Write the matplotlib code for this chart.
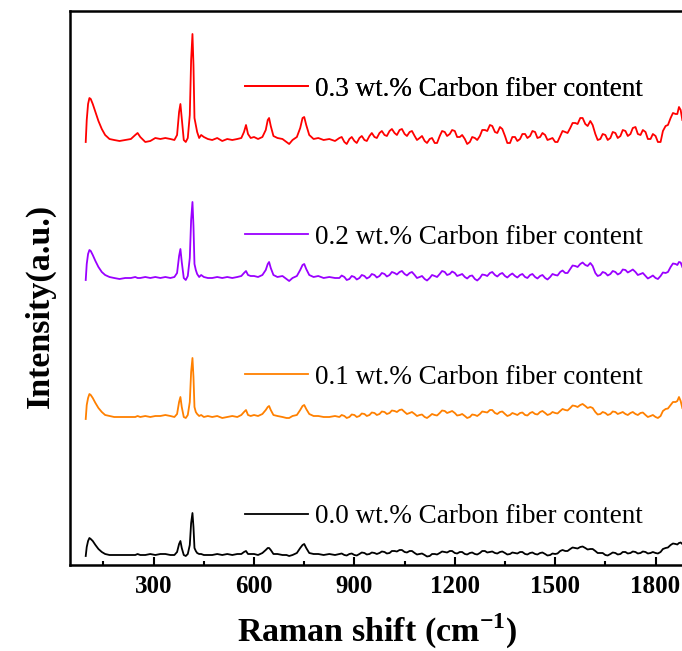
import matplotlib
matplotlib.use("Agg")
import numpy as np
import matplotlib.pyplot as plt
from matplotlib.lines import Line2D
from matplotlib.ticker import MultipleLocator

plt.rcParams["font.family"] = ["Liberation Serif", "DejaVu Serif"]
plt.rcParams["mathtext.fontset"] = "custom"
plt.rcParams["mathtext.rm"] = "Liberation Serif"
plt.rcParams["mathtext.bf"] = "Liberation Serif:bold"

# Raman shift (cm-1)
shift = [
    97, 100, 104, 108, 112, 118, 126, 135, 145, 155, 168, 182, 198, 215, 232,
    245, 252, 260, 275, 290, 305, 320, 335, 350, 362, 370, 376, 380, 384, 390,
    396, 402, 408, 412, 416, 419, 422, 426, 430, 436, 442, 450, 462, 475, 490,
    505, 520, 535, 550, 562, 570, 576, 582, 590, 600, 612, 625, 635, 641, 645,
    650, 658, 670, 685, 697, 705, 715, 728, 738, 745, 750, 756, 765, 778, 792,
    808, 825, 842,
    855, 870, 885, 900, 915, 930, 945, 960, 975, 990, 1005, 1020, 1035, 1050,
    1065, 1080, 1095, 1110, 1125, 1140, 1155, 1170, 1185, 1200, 1215, 1230,
    1245, 1260, 1275, 1290, 1305, 1320, 1335, 1350, 1365, 1380, 1395, 1410,
    1425, 1440, 1455, 1470, 1485, 1500, 1515, 1530, 1545, 1560, 1575, 1590,
    1605, 1620, 1635, 1650, 1665, 1680, 1695, 1710, 1725, 1740, 1755, 1770,
    1785, 1800, 1815, 1830, 1845, 1860, 1870, 1880,
]

# intensity above each trace's own baseline (a.u.)
int_00 = [
    -1, 8, 14, 17, 16, 14, 10, 6, 3, 1, 0, 0, 0, 0, 0,
    0, 1, 0, 0, 1, 0, 1, 1, 0, 0, 3, 11, 14, 7, 0,
    -1, 1, 10, 32, 42, 28, 7, 4, 2, 1, 1, 0, 0, 0, 1,
    0, 1, 0, 1, 1, 3, 4, 1, 1, 1, 0, 2, 5, 7, 7,
    5, 1, 1, 0, 0, -1, 0, 2, 7, 10, 11, 7, 2, 1, 1,
    0, 1, 0,
    1, 0, 1, 0, 1, 2, 1, 2, 2, 3, 2, 4, 5, 3,
    4, 2, 1, 0, -1, 1, 2, 3, 4, 2, 3, 1,
    2, 1, 2, 4, 3, 2, 3, 2, 1, 2, 3, 1,
    2, 1, 2, 1, 0, 1, 4, 4, 6, 7, 8, 7,
    6, 4, 2, 0, 1, 2, 1, 3, 2, 3, 2, 3,
    2, 2, 3, 7, 10, 11, 12, 11,
]
int_01 = [
    -2, 12, 19, 23, 22, 19, 14, 9, 5, 2, 1, 0, 0, 0, 0,
    0, 1, 0, 1, 0, 1, 1, 2, 1, 0, 3, 15, 20, 10, 0,
    -1, 2, 15, 45, 59, 40, 10, 5, 3, 1, 2, 0, 1, 0, 1,
    -1, 0, 1, 0, 2, 5, 7, 2, 1, 2, 1, 3, 7, 10, 11,
    7, 2, 1, 0, -1, -1, 1, 2, 7, 11, 12, 8, 3, 1, 1,
    0, 0, 1,
    0, 1, 0, 2, 1, 3, 2, 4, 3, 5, 4, 6, 7, 5,
    4, 3, 2, 0, 1, 2, 4, 6, 5, 4, 2, 1,
    0, 2, 3, 5, 7, 4, 5, 3, 2, 3, 4, 2,
    4, 3, 5, 4, 3, 4, 6, 7, 9, 11, 12, 11,
    10, 5, 3, 4, 3, 5, 4, 3, 4, 3, 4, 2,
    1, 0, 1, 8, 12, 15, 20, 9,
]
int_02 = [
    -2, 14, 24, 28, 27, 23, 17, 11, 6, 3, 1, 0, -1, 0, 0,
    1, 0, 0, 1, 0, 1, 0, 1, 0, 1, 5, 22, 29, 16, 0,
    -2, 2, 20, 58, 76, 52, 14, 8, 4, 1, 3, 1, 0, 0, 1,
    0, 1, 0, 1, 2, 5, 7, 3, 2, 2, 1, 3, 8, 14, 16,
    10, 3, 1, 2, -1, -3, 0, 2, 8, 13, 14, 9, 3, 1, 2,
    0, 1, 0,
    0, 1, -1, 1, 0, 2, 1, 3, 2, 4, 3, 5, 6, 4,
    5, 3, 1, -1, 0, 2, 4, 6, 4, 5, 3, 1,
    2, -1, 0, 3, 5, 3, 4, 2, 3, 2, 3, 1,
    3, 1, 2, 0, 1, 3, 6, 5, 9, 12, 14, 13,
    15, 5, 3, 5, 4, 6, 5, 8, 7, 6, 4, 2,
    1, 0, 2, 5, 11, 14, 16, 11,
]
int_03 = [
    -2, 20, 36, 42, 41, 36, 28, 19, 11, 5, 1, 0, -1, 0, 1,
    5, 7, 3, -2, -1, 2, 1, 2, 1, 0, 5, 28, 36, 22, 0,
    -2, 2, 25, 80, 106, 75, 22, 15, 8, 2, 5, 3, 1, 0, 2,
    -1, 1, 0, 1, 2, 8, 15, 6, 2, 3, 1, 3, 10, 20, 22,
    14, 4, 2, 1, -2, -4, 0, 3, 12, 22, 23, 15, 5, 1, 2,
    0, 1, -1,
    2, -2, 1, -1, 2, 0, 4, 3, 7, 5, 9, 7, 10, 6,
    8, 4, 2, -1, 1, -3, 4, 8, 6, 9, 3, 1,
    -2, 2, 4, 10, 15, 8, 13, 4, -3, 3, 1, 6,
    4, 8, 3, 5, 1, -2, 4, 8, 12, 17, 22, 16,
    19, 6, 1, 5, 2, 7, 4, 9, 6, 13, 5, 8,
    1, 4, -2, 14, 22, 26, 33, 20,
]

# in-between readings for the noisy part above 850 cm-1
shift_mid = [
    862, 877, 892, 907, 922, 937, 952, 967, 982, 997, 1012, 1027, 1042, 1057,
    1072, 1087, 1102, 1117, 1132, 1147, 1162, 1177, 1192, 1207, 1222, 1237,
    1252, 1267, 1282, 1297, 1312, 1327, 1342, 1357, 1372, 1387, 1402, 1417,
    1432, 1447, 1462, 1477, 1492, 1507, 1522, 1537, 1552, 1567, 1582, 1597,
    1612, 1627, 1642, 1657, 1672, 1687, 1702, 1717, 1732, 1747, 1762, 1777,
    1792, 1807, 1822, 1837, 1852, 1865, 1875,
]
mid_00 = [
    1.5, -0.5, 1.5, -0.5, 2.5, 0.5, 2.5, 1, 3.5, 1.5, 4, 3.5, 5, 2.5,
    4, 0.5, 1.5, -1.5, 1, 0.5, 3.5, 2.5, 4, 1.5, 3, 0.5,
    2.5, 0.5, 4, 2.5, 3.5, 1.5, 3.5, 0.5, 2.5, 1.5, 3, 0.5,
    2.5, 0.5, 2.5, -0.5, 1.5, 1.5, 5, 4, 7.5, 6.5, 8.5, 5.5,
    6, 2, 2, -0.5, 2.5, 0.5, 3, 1.5, 3.5, 1.5, 3.5, 1.5,
    3, 1.5, 6, 7.5, 11.5, 10.5, 12.5,
]
mid_01 = [
    2, -1, 2.5, 0, 3.5, 1, 4.5, 2, 5.5, 3, 6.5, 5, 7.5, 3,
    5, 1, 2.5, -1, 3, 1.5, 6.5, 4, 6, 1.5, 3, -1,
    2.5, 1, 5.5, 4.5, 7, 3, 5.5, 1, 4, 2, 4.5, 1.5,
    5, 2.5, 6, 2, 5, 3.5, 8, 6.5, 11.5, 10, 13, 9,
    9, 2.5, 5, 2, 5.5, 3, 5, 2, 5, 2, 4.5, 0,
    2, -1, 6, 8.5, 15, 16, 16,
]
mid_02 = [
    2.5, -2, 2, -1.5, 3, -0.5, 4, 0.5, 5, 1.5, 6, 3.5, 7, 2.5,
    6, 0, 2, -2.5, 3, 1, 7, 3, 6.5, 2, 4, -0.5,
    2.5, -2.5, 3.5, 2, 6, 1.5, 5, 0.5, 4.5, 0.5, 4, 0,
    4, -0.5, 3, -1.5, 4, 2.5, 7.5, 5, 12.5, 11, 15.5, 12,
    12, 2, 6, 2.5, 7, 3.5, 8.5, 5.5, 8.5, 3, 5, -0.5,
    2.5, -1, 5.5, 6, 14.5, 13, 15.5,
]
mid_03 = [
    3, -4, 3, -3, 4, -1, 7, 2, 9, 4, 11, 5, 11, 4,
    9, 0, 4, -3, 2, -3, 9, 4, 10, 3, 5, -4,
    3, 0, 10, 9, 14, 7, 11, -3, 3, -1, 6, 2,
    9, 2, 7, 0, 2, -2, 9, 7, 17, 16, 22, 14,
    15, 0, 6, 0, 8, 2, 10, 4, 12, 6, 10, 1,
    6, -2, 9, 15, 27, 26, 30,
]

series = [int_00, int_01, int_02, int_03]
mids = [mid_00, mid_01, mid_02, mid_03]
offsets = [10, 148, 287, 425]
colors = ["black", "#ff8000", "#9a00ff", "#ff0000"]
labels = [
    "0.0 wt.% Carbon fiber content",
    "0.1 wt.% Carbon fiber content",
    "0.2 wt.% Carbon fiber content",
    "0.3 wt.% Carbon fiber content",
]
legend_y = [0.087, 0.339, 0.592, 0.859]

fig = plt.figure(figsize=(6.82, 6.51), dpi=100)
# right spine sits just past the picture edge, as in the original
ax = fig.add_axes([70 / 682, 86 / 651, 614 / 682, 554 / 651])

x_all = np.array(shift + shift_mid)
order = np.argsort(x_all)
for vals, mv, off, c in zip(series, mids, offsets, colors):
    y_all = np.array(vals + mv, dtype=float)
    ax.plot(x_all[order], y_all[order] + off, color=c, lw=1.3)

for lab, c, ly in zip(labels, colors, legend_y):
    h = Line2D([], [], color=c, lw=1.3)
    leg = ax.legend(
        [h], [lab], loc="center left", bbox_to_anchor=(0.285, ly),
        frameon=False, fontsize=19.5, handlelength=2.33, handletextpad=0.26,
        borderpad=0, borderaxespad=0,
    )
    ax.add_artist(leg)

ax.set_xlim(50, 1885)
ax.set_ylim(0, 554)
ax.xaxis.set_minor_locator(MultipleLocator(150))
ax.set_xticks([300, 600, 900, 1200, 1500, 1800])
ax.set_yticks([])
ax.tick_params(axis="x", which="major", direction="in", length=6, width=1.5,
               labelsize=18, pad=7)
ax.tick_params(axis="x", which="minor", direction="in", length=3, width=1.5)
for lbl in ax.get_xticklabels():
    lbl.set_fontweight("bold")
for sp in ax.spines.values():
    sp.set_linewidth(1.8)

ax.set_xlabel(r"Raman shift (cm$^{\mathbf{-1}}$)", fontsize=24.5,
              fontweight="bold", labelpad=10)
ax.set_ylabel("Intensity(a.u.)", fontsize=24.5, fontweight="bold")
ax.yaxis.set_label_coords(-0.0228, 0.4675)

fig.savefig("out.png", dpi=100)
